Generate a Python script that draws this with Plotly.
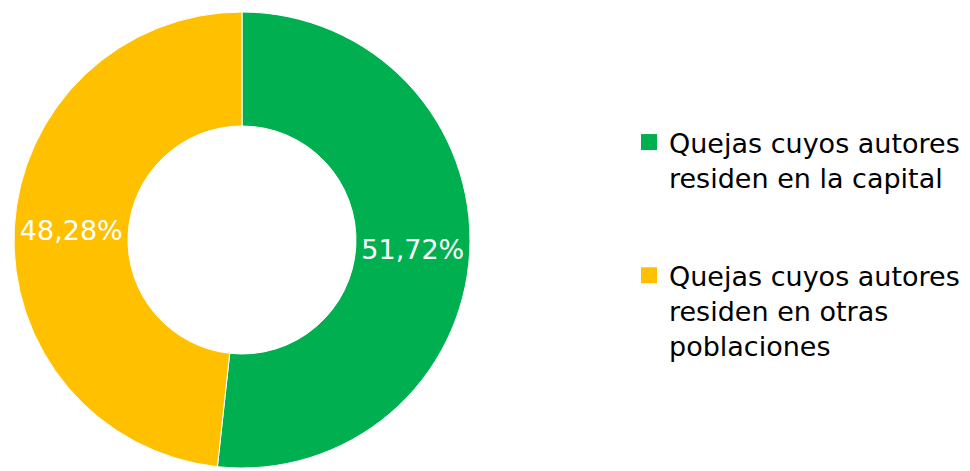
import plotly.graph_objects as go

labels = ["Quejas cuyos autores<br>residen en la capital",
          "Quejas cuyos autores<br>residen en otras<br>poblaciones"]
values = [51.72, 48.28]
colors = ["#00B050", "#FFC000"]

FONT = "DejaVu Sans, Tahoma, sans-serif"

fig = go.Figure()
fig.add_trace(go.Pie(
    labels=labels,
    values=values,
    hole=0.5,
    sort=False,
    direction="clockwise",
    rotation=0,
    marker=dict(colors=colors, line=dict(color="white", width=1)),
    texttemplate="%{percent:.2%}",
    textposition="inside",
    insidetextorientation="horizontal",
    textfont=dict(color="white", size=27, family=FONT),
    domain=dict(x=[14/970, 470/970], y=[3/471, 459/471]),
    hoverinfo="label+percent",
    showlegend=False,
))

# legend entries (square swatches) built from the same labels / colours
for i, (lab, col) in enumerate(zip(labels, colors)):
    fig.add_trace(go.Scatter(
        x=[None], y=[None], mode="markers",
        marker=dict(symbol="square", size=18, color=col),
        name=lab, legendgroup=f"g{i}", showlegend=True,
        hoverinfo="skip",
    ))

fig.update_layout(
    width=970, height=471,
    margin=dict(l=0, r=0, t=0, b=0),
    paper_bgcolor="white",
    plot_bgcolor="white",
    separators=",.",
    xaxis=dict(visible=False),
    yaxis=dict(visible=False),
    showlegend=True,
    legend=dict(
        x=629/970, xanchor="left",
        y=1 - 118/471, yanchor="top",
        font=dict(size=27, color="#000000", family=FONT),
        valign="top",
        tracegroupgap=60,
        itemsizing="trace",
    ),
)

fig.write_html("out.html")
